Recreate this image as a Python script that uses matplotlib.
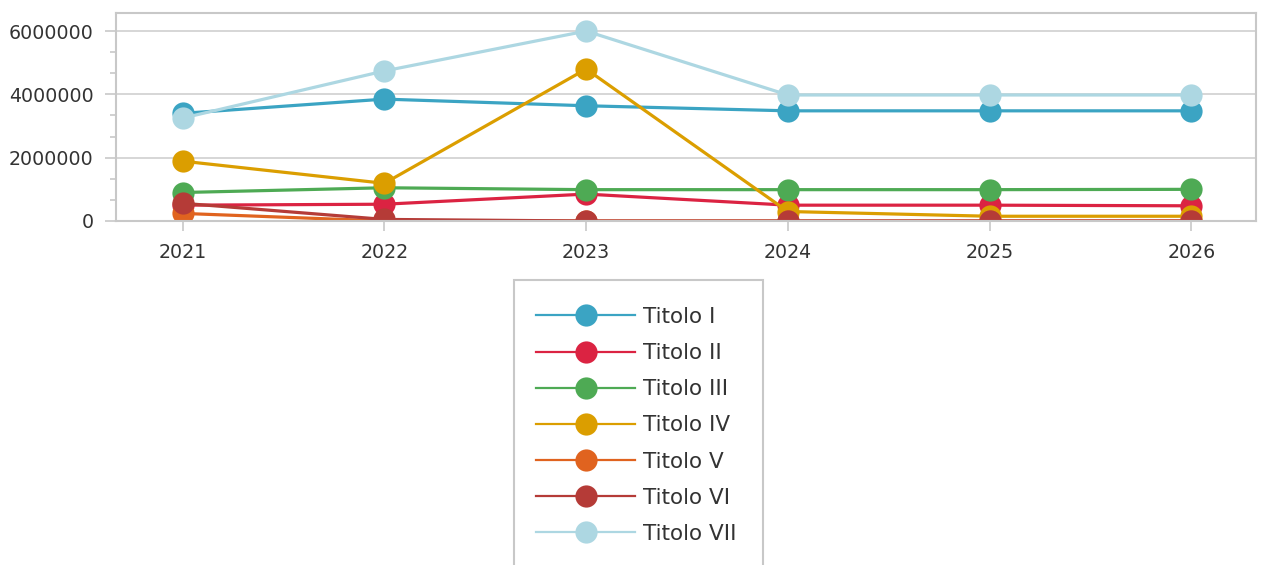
import matplotlib
matplotlib.use("Agg")
import matplotlib.pyplot as plt
from matplotlib.patches import Rectangle
from matplotlib.ticker import MultipleLocator

years = [2021, 2022, 2023, 2024, 2025, 2026]
labels = ["Titolo I", "Titolo II", "Titolo III", "Titolo IV", "Titolo V", "Titolo VI", "Titolo VII"]
titolo_1 = [3400000, 3850000, 3640000, 3480000, 3480000, 3480000]
titolo_2 = [500000, 530000, 850000, 500000, 500000, 480000]
titolo_3 = [900000, 1050000, 990000, 990000, 990000, 1000000]
titolo_4 = [1890000, 1190000, 4800000, 300000, 150000, 150000]
titolo_5 = [240000, 0, 0, 0, 0, 0]
titolo_6 = [560000, 50000, 0, 0, 0, 0]
titolo_7 = [3250000, 4740000, 6000000, 3980000, 3980000, 3980000]
series = [titolo_1, titolo_2, titolo_3, titolo_4, titolo_5, titolo_6, titolo_7]
colors = ["#3BA4C3", "#DB2342", "#4EAA54", "#DB9E00", "#E0631F", "#B53B37", "#ADD7E2"]

W, H = 1262, 565
fig = plt.figure(figsize=(W / 100, H / 100), dpi=100)
ax = fig.add_axes([116 / W, 1 - 221 / H, (1256 - 116) / W, (221 - 13) / H])

for vals, lab, c in zip(series, labels, colors):
    ax.plot(years, vals, color=c, lw=2.3, marker="o", markersize=16,
            markeredgewidth=0, label=lab, clip_on=True)

ax.set_xlim(2020.67, 2026.32)
ax.set_ylim(0, 6570000)
ax.set_xticks(years)
ax.set_xticklabels([str(y) for y in years])
ax.set_yticks([0, 2000000, 4000000, 6000000])
ax.set_yticklabels(["0", "2000000", "4000000", "6000000"])
ax.yaxis.set_minor_locator(MultipleLocator(2000000 / 3))
ax.grid(axis="y", color="#D0D0D0", lw=1.2)
ax.set_axisbelow(True)
for s in ax.spines.values():
    s.set_color("#C8C8C8")
    s.set_linewidth(1.5)
ax.tick_params(axis="y", which="major", length=8, color="#C8C8C8", width=1.2,
               labelsize=13.7, pad=8, labelcolor="#333333")
ax.tick_params(axis="y", which="minor", length=4, color="#C8C8C8", width=1.2)
ax.tick_params(axis="x", length=7, color="#C8C8C8", width=1.2, labelsize=13.7,
               pad=9, labelcolor="#333333")

leg = fig.legend(loc="upper left", bbox_to_anchor=(536 / W, 1 - 307 / H),
                 frameon=False, fontsize=15.5, borderpad=0, borderaxespad=0,
                 handlelength=4.6, handletextpad=0.37, labelspacing=0.75,
                 labelcolor="#333333")
for ln in leg.get_lines():
    ln.set_linewidth(1.6)
fig.add_artist(Rectangle((514 / W, -0.02), (763 - 514) / W, (1 - 280 / H) + 0.02,
                         transform=fig.transFigure, fill=False,
                         edgecolor="#C8C8C8", lw=1.5))

fig.savefig("out.png", dpi=100)
